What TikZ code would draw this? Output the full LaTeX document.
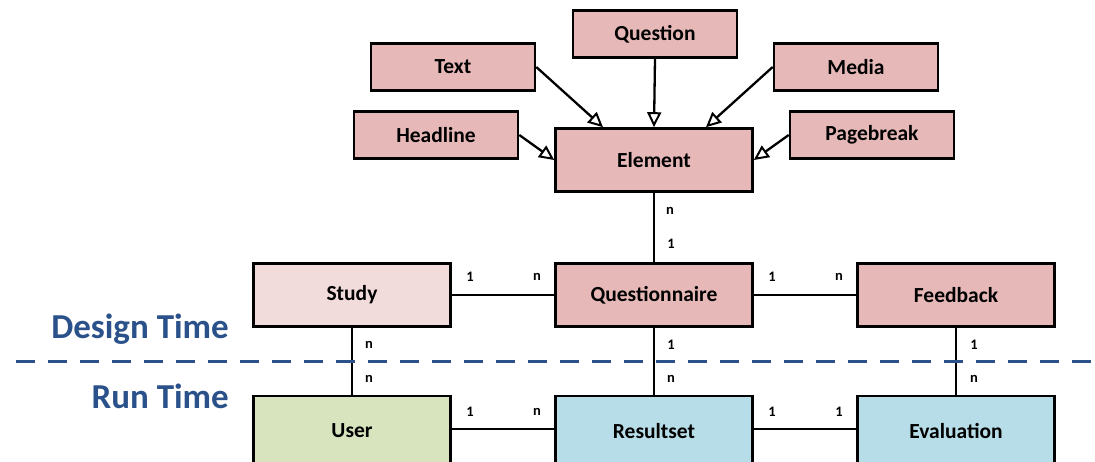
\documentclass[tikz,border=0pt]{standalone}
\usepackage{fontspec}
\setmainfont{Carlito}
\usetikzlibrary{arrows.meta}
\definecolor{pinkfill}{HTML}{E6B9B8}
\definecolor{lightpink}{HTML}{F2DCDB}
\definecolor{greenfill}{HTML}{D7E4BD}
\definecolor{bluefill}{HTML}{B7DEE8}
\definecolor{darkblue}{HTML}{2A5189}
\begin{document}
\begin{tikzpicture}[x=1pt,y=-1pt,
  bigbox/.style={draw=black, line width=2.6pt, minimum width=197pt, minimum height=63pt, inner sep=0pt, font=\fontsize{21.5}{24}\selectfont\bfseries},
  smallbox/.style={bigbox, minimum width=164pt, minimum height=47pt, fill=pinkfill},
  runbox/.style={bigbox, minimum height=72pt},
  conn/.style={line width=2.3pt},
  gen/.style={line width=2.3pt, -{Triangle[open, length=15pt, width=14pt, line width=2pt]}},
  card/.style={font=\fontsize{14.5}{16}\selectfont\bfseries, inner sep=0pt},
  phase/.style={font=\fontsize{35}{40}\selectfont\bfseries, text=darkblue, anchor=east, inner sep=0pt},
  divider/.style={draw=darkblue, line width=3pt, dash pattern=on 19pt off 13pt}]
\useasboundingbox (0,0) rectangle (1095,461);
\clip (0,0) rectangle (1095,461);

% generalisation boxes
\node[smallbox] (question) at (655,34) {Question};
\node[smallbox] (text) at (453,67) {Text};
\node[smallbox] (media) at (856,67) {Media};
\node[smallbox] (headline) at (436,135) {Headline};
\node[smallbox] (pagebreak) at (872,135) {Pagebreak};
\node[bigbox, fill=pinkfill] (element) at (654,160) {Element};

% design time row
\node[bigbox, fill=lightpink] (study) at (352,295) {Study};
\node[bigbox, fill=pinkfill] (questionnaire) at (654,295) {Questionnaire};
\node[bigbox, fill=pinkfill] (feedback) at (956,295) {Feedback};

% run time row
\node[runbox, fill=greenfill] (user) at (352,432) {\raisebox{3pt}{User}};
\node[runbox, fill=bluefill] (resultset) at (654,432) {\raisebox{3pt}{Resultset}};
\node[runbox, fill=bluefill] (evaluation) at (956,432) {\raisebox{3pt}{Evaluation}};
\coordinate (userlink) at (453,429);
\coordinate (resl) at (554,429);
\coordinate (resr) at (754,429);
\coordinate (evall) at (856,429);

% generalisation arrows
\draw[gen] (question.south) -- (element.north);
\draw[gen] (text.east) -- ([xshift=-51pt]element.north);
\draw[gen] (media.west) -- ([xshift=52pt]element.north);
\draw[gen] (headline.east) -- (element.west);
\draw[gen] (pagebreak.west) -- (element.east);

% associations
\draw[conn] (element.south) -- (questionnaire.north);
\draw[conn] (study.east) -- (questionnaire.west);
\draw[conn] (questionnaire.east) -- (feedback.west);
\draw[conn] (study.south) -- (user.north);
\draw[conn] (questionnaire.south) -- (resultset.north);
\draw[conn] (feedback.south) -- (evaluation.north);
\draw[conn] (user.east |- userlink) -- (resultset.west |- resl);
\draw[conn] (resultset.east |- resr) -- (evaluation.west |- evall);

% cardinalities
\node[card] (c1) at (670,211) {n};
\node[card] (c2) at (671,244) {1};
\node[card] (c3) at (470,277) {1};
\node[card] (c4) at (537,277) {n};
\node[card] (c5) at (772,277) {1};
\node[card] (c6) at (839,277) {n};
\node[card] (c7) at (369,345) {n};
\node[card] (c8) at (369,379) {n};
\node[card] (c9) at (671,345) {1};
\node[card] (c10) at (671,379) {n};
\node[card] (c11) at (974,345) {1};
\node[card] (c12) at (974,379) {n};
\node[card] (c13) at (470,412) {1};
\node[card] (c14) at (537,412) {n};
\node[card] (c15) at (772,412) {1};
\node[card] (c16) at (839,412) {1};

% phase divider
\coordinate (dl) at (16,361);
\coordinate (dr) at (1095,361);
\draw[divider] (dl) -- (dr);
\node[phase] (design) at (229,329) {Design Time};
\node[phase] (run) at (229,396) {Run Time};
\end{tikzpicture}
\end{document}
